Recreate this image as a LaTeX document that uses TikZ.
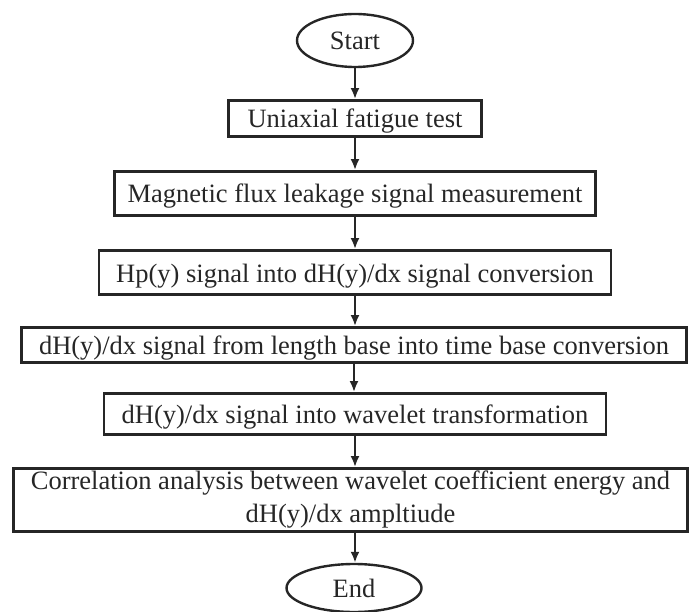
\documentclass[tikz,border=0pt]{standalone}
\usepackage{fontspec}
\setmainfont{Liberation Serif}
\usetikzlibrary{arrows.meta,shapes.geometric}
\begin{document}
\begin{tikzpicture}[x=1pt,y=-1pt,
  every node/.style={font=\fontsize{26.5}{33}\selectfont, inner sep=0pt, align=center, text=black!85},
  stepbox/.style={draw=black!85, line width=2.8pt, rectangle},
  oneline/.style={text height=23pt, text depth=4pt},
  terminal/.style={draw=black!85, line width=2.4pt, ellipse},
  arr/.style={draw=black!85, line width=2.4pt, -{Latex[length=11pt,width=9pt]}}]
\useasboundingbox (0,0) rectangle (690,612);
% terminals
\node[terminal, minimum width=116pt, minimum height=53pt] (start) at (355,40.5) {Start};
\node[terminal, minimum width=135pt, minimum height=48pt] (end) at (354,588) {End};
% process steps
\node[stepbox, oneline, minimum width=253pt, minimum height=36pt] (b1) at (355,118.5) {Uniaxial fatigue test};
\node[stepbox, oneline, minimum width=481pt, minimum height=44pt] (b2) at (355,193.5) {Magnetic flux leakage signal measurement};
\node[stepbox, oneline, minimum width=512pt, minimum height=44pt] (b3) at (355,272.5) {Hp(y) signal into dH(y)/dx signal conversion};
\node[stepbox, oneline, minimum width=665pt, minimum height=35pt] (b4) at (354,345) {dH(y)/dx signal from length base into time base conversion};
\node[stepbox, oneline, minimum width=502pt, minimum height=41pt] (b5) at (355,414) {dH(y)/dx signal into wavelet transformation};
\node[stepbox, minimum width=674pt, minimum height=63pt] (b6) at (350.5,500) {Correlation analysis between wavelet coefficient energy and\\ dH(y)/dx ampltiude};
% connectors
\draw[arr] (start.south) -- (start.south |- b1.north);
\draw[arr] (b1.south) -- (b1.south |- b2.north);
\draw[arr] (b2.south) -- (b2.south |- b3.north);
\draw[arr] (b3.south) -- (b3.south |- b4.north);
\draw[arr] (b4.south) -- (b4.south |- b5.north);
\draw[arr] (b5.south) -- (b5.south |- b6.north);
\draw[arr] (b5.south |- b6.south) -- (b5.south |- end.north);
\end{tikzpicture}
\end{document}
